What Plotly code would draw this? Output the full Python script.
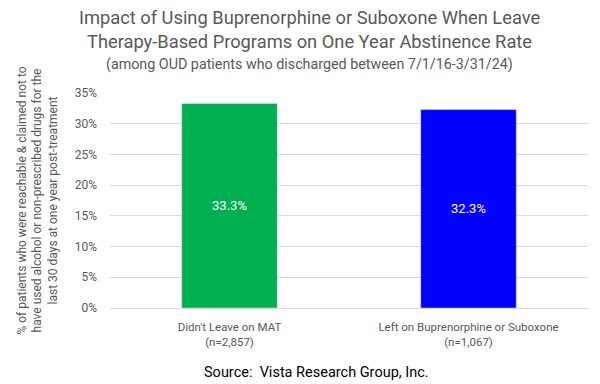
import plotly.graph_objects as go

categories = ["Didn't Leave on MAT<br>(n=2,857)", "Left on Buprenorphine or Suboxone<br>(n=1,067)"]
values = [33.3, 32.3]
colors = ["#00B050", "#0000FF"]
bar_labels = ["33.3%", "32.3%"]
tick_vals = [0, 5, 10, 15, 20, 25, 30, 35]
tick_text = ["0%", "5%", "10%", "15%", "20%", "25%", "30%", "35%"]

font_family = "Roboto, 'Open Sans', sans-serif"
title_x = 0.418

fig = go.Figure()
fig.add_trace(go.Bar(
    x=categories, y=values, marker_color=colors, width=0.4,
    text=bar_labels, textposition="inside", insidetextanchor="middle",
    textfont=dict(color="white", size=13, family=font_family),
    hoverinfo="skip"
))

fig.update_layout(
    width=592, height=376,
    margin=dict(l=102, r=12, t=85, b=76),
    plot_bgcolor="white", paper_bgcolor="white",
    showlegend=False,
    font=dict(family=font_family, color="#595959"),
    xaxis=dict(showline=True, linecolor="#D9D9D9", linewidth=1,
               tickfont=dict(size=11.5, color="#595959"), ticks="",
               ticklabelstandoff=8),
    yaxis=dict(range=[0, 35], tickvals=tick_vals, ticktext=tick_text,
               showgrid=True, gridcolor="#D9D9D9", gridwidth=1,
               zeroline=False, showline=False, ticks="",
               ticklabelstandoff=12,
               tickfont=dict(size=12, color="#595959"),
               title=dict(text="% of patients who were reachable & claimed not to<br>have used alcohol or non-prescribed drugs for the<br>last 30 days at one year post-treatment",
                          font=dict(size=12, color="#595959"), standoff=14)),
)

fig.add_annotation(text="Impact of Using Buprenorphine or Suboxone When Leave",
                   xref="paper", yref="paper", x=title_x, y=1, yanchor="middle", yshift=76,
                   xanchor="center", showarrow=False, borderpad=0,
                   font=dict(size=18.3, color="#595959", family=font_family))
fig.add_annotation(text="Therapy-Based Programs on One Year Abstinence Rate",
                   xref="paper", yref="paper", x=title_x, y=1, yanchor="middle", yshift=52,
                   xanchor="center", showarrow=False,
                   font=dict(size=18.3, color="#595959", family=font_family))
fig.add_annotation(text="(among OUD patients who discharged between 7/1/16-3/31/24)",
                   xref="paper", yref="paper", x=title_x, y=1, yanchor="middle", yshift=29,
                   xanchor="center", showarrow=False,
                   font=dict(size=14.3, color="#595959", family=font_family))
fig.add_annotation(text="Source:  Vista Research Group, Inc.",
                   xref="paper", yref="paper", x=0.431, y=0, yanchor="middle", yshift=-64,
                   xanchor="center", showarrow=False,
                   font=dict(size=14.5, color="black", family=font_family))

fig.write_html("out.html")
